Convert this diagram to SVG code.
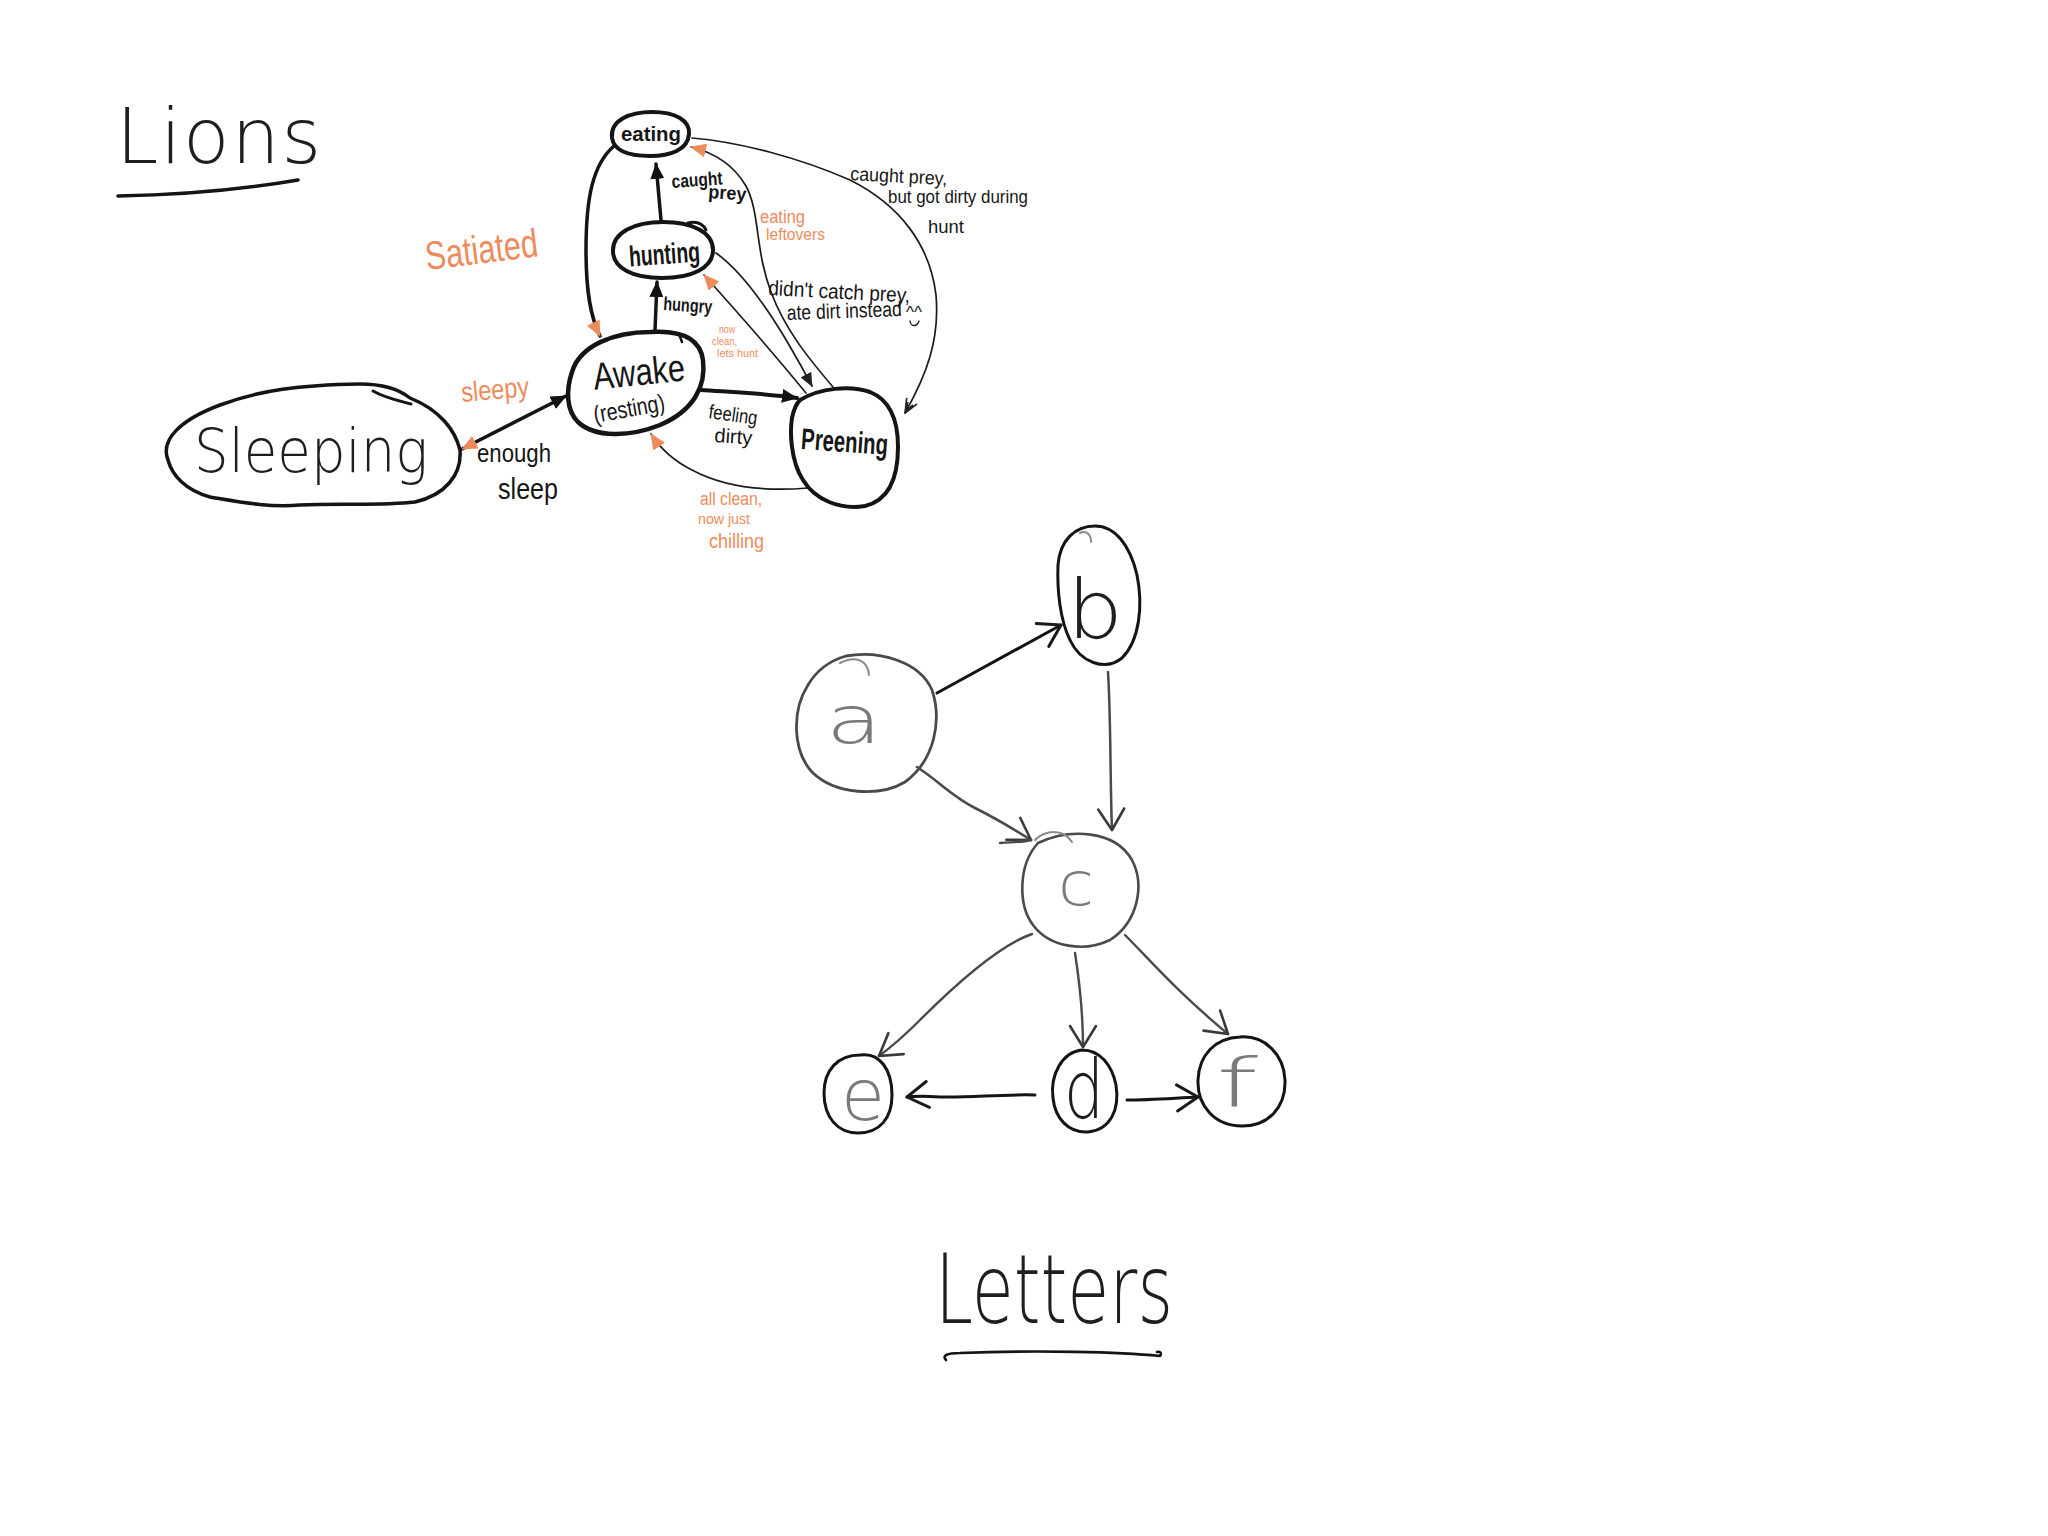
<svg xmlns="http://www.w3.org/2000/svg" width="2048" height="1536" viewBox="0 0 2048 1536">
  <defs>
    <style>
      .ink { fill: none; stroke: #141414; stroke-linecap: round; stroke-linejoin: round; }
      .grey { fill: none; stroke: #4a4a4a; stroke-linecap: round; stroke-linejoin: round; }
      .thin { fill: none; stroke: #1c1c1c; stroke-width: 1.7; stroke-linecap: round; }
      .t { font-family: "Liberation Sans", "DejaVu Sans", sans-serif; fill: #161616; }
      .o { font-family: "Liberation Sans", "DejaVu Sans", sans-serif; fill: #ee8b5c; }
      .lt { font-family: "DejaVu Sans", "Liberation Sans", sans-serif; font-weight: 200; }
      .g { fill: #7a7a7a; }
      .k { fill: #1e1e1e; }
    </style>
    <marker id="tri-k" viewBox="0 0 16 14" refX="15" refY="7" markerWidth="16" markerHeight="14" orient="auto" markerUnits="userSpaceOnUse">
      <path d="M0,0 L16,7 L0,14 Z" fill="#111"/>
    </marker>
    <marker id="tri-o" viewBox="0 0 16 14" refX="15" refY="7" markerWidth="16" markerHeight="14" orient="auto-start-reverse" markerUnits="userSpaceOnUse">
      <path d="M0,0 L16,7 L0,14 Z" fill="#ee8b5c"/>
    </marker>
    <marker id="tri-ks" viewBox="0 0 14 12" refX="13" refY="6" markerWidth="14" markerHeight="12" orient="auto" markerUnits="userSpaceOnUse">
      <path d="M0,0 L14,6 L0,12 Z" fill="#222"/>
    </marker>
    <marker id="tri-open" viewBox="0 0 16 14" refX="15" refY="7" markerWidth="16" markerHeight="14" orient="auto" markerUnits="userSpaceOnUse">
      <path d="M1,1 L15,7 L1,13 M4,4 L12,7 M4,10 L12,7" fill="none" stroke="#222" stroke-width="1.6" stroke-linejoin="round"/>
    </marker>
    <marker id="vee-k" viewBox="-24 -16 26 32" refX="0" refY="0" markerWidth="26" markerHeight="32" orient="auto" markerUnits="userSpaceOnUse">
      <path d="M-21,-13 L0,0 L-21,13" fill="none" stroke="#1a1a1a" stroke-width="3" stroke-linecap="round" stroke-linejoin="round"/>
    </marker>
    <marker id="vee-g" viewBox="-24 -16 26 32" refX="0" refY="0" markerWidth="26" markerHeight="32" orient="auto" markerUnits="userSpaceOnUse">
      <path d="M-21,-13 L0,0 L-21,13" fill="none" stroke="#3a3a3a" stroke-width="2.6" stroke-linecap="round" stroke-linejoin="round"/>
    </marker>
  </defs>

  <rect width="2048" height="1536" fill="#ffffff"/>

  <!-- Lions state machine -->
  <g id="lions-title">
    <text class="lt k" x="116" y="163" font-size="76" textLength="205" lengthAdjust="spacing">Lions</text>
    <path class="ink" stroke-width="3.5" d="M118,196 C180,195 240,190 298,180"/>
  </g>

  <g id="connectors-lions">
    <!-- hunting -> eating -->
    <path class="ink" stroke-width="3.5" d="M661,220 L656,164" marker-end="url(#tri-k)"/>
    <!-- awake -> hunting -->
    <path class="ink" stroke-width="3.5" d="M655,330 L657,282" marker-end="url(#tri-k)"/>
    <!-- eating -> awake (satiated) -->
    <path class="ink" stroke-width="3.5" d="M614,146 C592,165 586,200 586,250 C586,290 590,316 600,336" marker-end="url(#tri-o)"/>
    <!-- awake -> preening (feeling dirty) -->
    <path class="ink" stroke-width="4" d="M701,390 C730,392 762,393 797,398" marker-end="url(#tri-k)"/>
    <!-- sleeping <-> awake -->
    <path class="ink" stroke-width="3.5" d="M462,449 L566,396" marker-start="url(#tri-o)" marker-end="url(#tri-k)"/>
    <!-- preening -> awake (all clean) -->
    <path class="thin" d="M808,488 C760,492 720,485 692,470 C672,460 660,448 651,434" marker-end="url(#tri-o)"/>
    <!-- preening -> hunting (now clean) -->
    <path class="thin" stroke-width="1.5" d="M806,393 C775,355 740,315 704,275" marker-end="url(#tri-o)"/>
    <!-- hunting -> preening (ate dirt) -->
    <path class="thin" d="M716,253 C740,270 762,300 785,338 C795,355 804,371 812,386" marker-end="url(#tri-ks)"/>
    <!-- preening -> eating (leftovers) -->
    <path class="thin" d="M833,387 C810,360 785,330 771,292 C755,250 760,212 746,186 C733,164 712,152 691,147" marker-end="url(#tri-o)"/>
    <!-- eating -> preening (caught prey, got dirty) -->
    <path class="thin" stroke-width="1.5" d="M692,138 C740,142 800,158 850,180 C900,205 930,245 936,295 C940,340 926,376 905,413" marker-end="url(#tri-open)"/>
  </g>

  <g id="node-eating">
    <path class="ink" stroke-width="4" d="M612,138 C610,120 630,112 652,112 C675,112 690,120 689,134 C688,150 670,156 650,156 C628,156 614,150 612,138 Z"/>
    <text class="t" x="621" y="141" font-size="21" font-weight="bold" textLength="60" lengthAdjust="spacingAndGlyphs">eating</text>
  </g>

  <g id="node-hunting">
    <path class="ink" stroke-width="4" d="M613,252 C612,232 635,222 663,222 C692,222 713,232 713,250 C713,268 692,278 662,278 C632,278 614,268 613,252 Z"/>
    <path class="ink" stroke-width="3" d="M688,223 C697,221 703,224 706,230"/>
    <text class="t" x="629" y="264" font-size="29" font-weight="bold" textLength="71" lengthAdjust="spacingAndGlyphs" transform="rotate(-4 664 255)">hunting</text>
  </g>

  <g id="node-awake">
    <path class="ink" stroke-width="4.5" d="M572,372 C580,345 615,332 650,332 C680,330 700,338 703,360 C706,385 695,410 660,425 C630,437 595,438 578,422 C566,410 566,390 572,372 Z"/>
    <path class="ink" stroke-width="2.5" d="M679,334 L682,342"/>
    <text class="t" x="593" y="385" font-size="38" textLength="92" lengthAdjust="spacingAndGlyphs" transform="rotate(-6 640 372)">Awake</text>
    <text class="t" x="593" y="417" font-size="24" textLength="72" lengthAdjust="spacingAndGlyphs" transform="rotate(-10 628 408)">(resting)</text>
  </g>

  <g id="node-preening">
    <path class="ink" stroke-width="4" d="M800,400 C820,388 850,385 870,392 C890,400 898,420 898,447 C898,475 890,500 865,506 C840,510 815,500 803,480 C790,460 790,430 792,418 C794,408 796,404 800,400 Z"/>
    <text class="t" x="801" y="452" font-size="30" font-weight="bold" textLength="87" lengthAdjust="spacingAndGlyphs" transform="rotate(4 845 445)">Preening</text>
  </g>

  <g id="node-sleeping">
    <path class="ink" stroke-width="3.5" d="M168,460 C160,440 180,420 220,405 C260,390 300,385 360,384 C385,384 400,390 410,398 C440,410 455,430 460,450 C462,475 445,495 415,502 C380,506 340,503 300,505 C270,508 240,502 210,497 C185,490 172,475 168,460 Z"/>
    <path class="ink" stroke-width="3" d="M373,391 C385,398 400,401 411,404"/>
    <text class="lt k" x="194" y="472" font-size="60" textLength="234" lengthAdjust="spacingAndGlyphs">Sleeping</text>
  </g>

  <g id="labels-lions">
    <text class="o" x="427" y="270" font-size="40" textLength="113" lengthAdjust="spacingAndGlyphs" transform="rotate(-7 427 270)">Satiated</text>
    <text class="t" x="672" y="188" font-size="19" font-weight="bold" textLength="51" lengthAdjust="spacingAndGlyphs" transform="rotate(-4 672 188)">caught</text>
    <text class="t" x="708" y="198" font-size="19" font-weight="bold" textLength="38" lengthAdjust="spacingAndGlyphs" transform="rotate(4 708 198)">prey</text>
    <text class="t" x="663" y="310" font-size="19" font-weight="bold" textLength="49" lengthAdjust="spacingAndGlyphs" transform="rotate(4 663 310)">hungry</text>
    <text class="o" x="462" y="402" font-size="28" textLength="68" lengthAdjust="spacingAndGlyphs" transform="rotate(-5 462 402)">sleepy</text>
    <text class="t" x="477" y="462" font-size="26" textLength="74" lengthAdjust="spacingAndGlyphs">enough</text>
    <text class="t" x="498" y="499" font-size="30" textLength="60" lengthAdjust="spacingAndGlyphs">sleep</text>
    <text class="t" x="708" y="418" font-size="20" textLength="49" lengthAdjust="spacingAndGlyphs" transform="rotate(8 708 418)">feeling</text>
    <text class="t" x="714" y="442" font-size="20" textLength="38" lengthAdjust="spacingAndGlyphs" transform="rotate(4 714 442)">dirty</text>
    <text class="o" x="700" y="505" font-size="18" textLength="62" lengthAdjust="spacingAndGlyphs">all clean,</text>
    <text class="o" x="698" y="524" font-size="15" textLength="52" lengthAdjust="spacingAndGlyphs">now just</text>
    <text class="o" x="709" y="548" font-size="20" textLength="55" lengthAdjust="spacingAndGlyphs">chilling</text>
    <text class="o" x="719" y="333" font-size="11" textLength="16" lengthAdjust="spacingAndGlyphs">now</text>
    <text class="o" x="712" y="345" font-size="11" textLength="25" lengthAdjust="spacingAndGlyphs">clean,</text>
    <text class="o" x="717" y="357" font-size="11" textLength="41" lengthAdjust="spacingAndGlyphs">lets hunt</text>
    <text class="o" x="760" y="223" font-size="18" textLength="45" lengthAdjust="spacingAndGlyphs">eating</text>
    <text class="o" x="766" y="240" font-size="17" textLength="59" lengthAdjust="spacingAndGlyphs">leftovers</text>
    <text class="t" x="768" y="295" font-size="21" textLength="142" lengthAdjust="spacingAndGlyphs" transform="rotate(3 768 295)">didn't catch prey,</text>
    <text class="t" x="787" y="320" font-size="21" textLength="115" lengthAdjust="spacingAndGlyphs" transform="rotate(-2 787 320)">ate dirt instead</text>
    <text class="t" x="906" y="318" font-size="16" textLength="16" lengthAdjust="spacingAndGlyphs">^^</text>
    <path class="ink" stroke-width="1.3" d="M910,321 C911,327 917,327 919,321"/>
    <text class="t" x="850" y="180" font-size="19" textLength="97" lengthAdjust="spacingAndGlyphs" transform="rotate(3 850 180)">caught prey,</text>
    <text class="t" x="888" y="203" font-size="19" textLength="140" lengthAdjust="spacingAndGlyphs">but got dirty during</text>
    <text class="t" x="928" y="233" font-size="19" textLength="36" lengthAdjust="spacingAndGlyphs">hunt</text>
  </g>

  <!-- Letters graph -->
  <g id="connectors-letters">
    <!-- a -> b -->
    <path class="ink" stroke-width="3" d="M937,693 C975,672 1015,650 1061,625" marker-end="url(#vee-k)"/>
    <!-- b -> c -->
    <path class="grey" stroke-width="2.5" d="M1108,672 C1111,720 1110,780 1112,830" marker-end="url(#vee-g)"/>
    <!-- a -> c -->
    <path class="grey" stroke-width="2.6" d="M917,767 C940,782 950,795 975,808 C995,818 1012,828 1031,840" marker-end="url(#vee-g)"/>
    <path class="grey" stroke-width="2.4" d="M1000,843 C1015,842 1025,842 1031,840"/>
    <!-- c -> e -->
    <path class="grey" stroke-width="2.4" d="M1032,934 C1000,945 960,980 920,1020 C905,1035 890,1048 879,1056" marker-end="url(#vee-g)"/>
    <!-- c -> d -->
    <path class="grey" stroke-width="2.4" d="M1075,953 C1080,985 1083,1015 1083,1047" marker-end="url(#vee-g)"/>
    <!-- c -> f -->
    <path class="grey" stroke-width="2.4" d="M1125,935 C1150,960 1175,990 1228,1034" marker-end="url(#vee-g)"/>
    <!-- d -> e -->
    <path class="ink" stroke-width="3" d="M1035,1095 C1000,1094 970,1098 940,1097 C925,1096 915,1096 907,1097" marker-end="url(#vee-k)"/>
    <!-- d -> f -->
    <path class="ink" stroke-width="3" d="M1127,1100 C1150,1100 1175,1098 1198,1097" marker-end="url(#vee-k)"/>
  </g>

  <g id="node-a">
    <path class="grey" stroke-width="2.8" d="M846,656 C880,650 920,662 932,690 C942,720 935,760 905,782 C880,797 835,795 812,772 C792,750 792,710 808,685 C818,668 832,660 846,656 Z"/>
    <path fill="none" stroke="#8a8a8a" stroke-width="2" stroke-linecap="round" d="M840,663 C855,655 868,660 869,675"/>
    <text class="lt g" x="826" y="743" font-size="66" textLength="56" lengthAdjust="spacingAndGlyphs">a</text>
  </g>

  <g id="node-b">
    <path class="ink" stroke-width="3" d="M1095,526 C1115,526 1130,545 1137,575 C1143,605 1140,640 1122,658 C1105,672 1080,662 1070,640 C1060,620 1057,590 1058,565 C1060,540 1075,526 1095,526 Z"/>
    <path fill="none" stroke="#8a8a8a" stroke-width="2" stroke-linecap="round" d="M1080,533 C1087,530 1091,535 1091,542"/>
    <text class="lt k" x="1067" y="638" font-size="82" textLength="56" lengthAdjust="spacingAndGlyphs">b</text>
  </g>

  <g id="node-c">
    <path class="grey" stroke-width="2.6" d="M1038,843 C1070,828 1115,830 1132,860 C1145,885 1138,922 1110,940 C1085,952 1050,948 1033,925 C1018,905 1018,865 1038,843 Z"/>
    <path fill="none" stroke="#8a8a8a" stroke-width="2" stroke-linecap="round" d="M1035,840 C1045,830 1063,828 1072,842"/>
    <text class="lt g" x="1058" y="905" font-size="60" textLength="36" lengthAdjust="spacingAndGlyphs">c</text>
  </g>

  <g id="node-d">
    <path class="ink" stroke-width="3" d="M1082,1050 C1100,1050 1112,1065 1116,1085 C1120,1110 1110,1130 1088,1132 C1068,1133 1055,1118 1053,1098 C1050,1075 1062,1052 1082,1050 Z"/>
    <text class="lt k" x="1064" y="1118" font-size="82" textLength="40" lengthAdjust="spacingAndGlyphs">d</text>
  </g>

  <g id="node-e">
    <path class="ink" stroke-width="3" d="M860,1055 C880,1052 892,1070 892,1095 C892,1118 880,1133 858,1133 C838,1133 824,1118 824,1093 C824,1070 838,1055 860,1055 Z"/>
    <text class="lt g" x="841" y="1120" font-size="72" textLength="44" lengthAdjust="spacingAndGlyphs">e</text>
  </g>

  <g id="node-f">
    <path class="ink" stroke-width="3" d="M1240,1037 C1265,1035 1284,1055 1285,1080 C1286,1108 1268,1126 1242,1126 C1215,1126 1197,1106 1198,1080 C1199,1055 1215,1038 1240,1037 Z"/>
    <text class="lt g" x="1216" y="1107" font-size="68" textLength="42" lengthAdjust="spacingAndGlyphs">f</text>
  </g>

  <g id="letters-title">
    <text class="lt k" x="935" y="1323" font-size="96" textLength="238" lengthAdjust="spacingAndGlyphs">Letters</text>
    <path class="ink" stroke-width="2.6" d="M946,1360 C942,1356 946,1353 960,1353 C1040,1350 1120,1352 1160,1356 C1162,1353 1160,1351 1157,1352"/>
  </g>
</svg>
